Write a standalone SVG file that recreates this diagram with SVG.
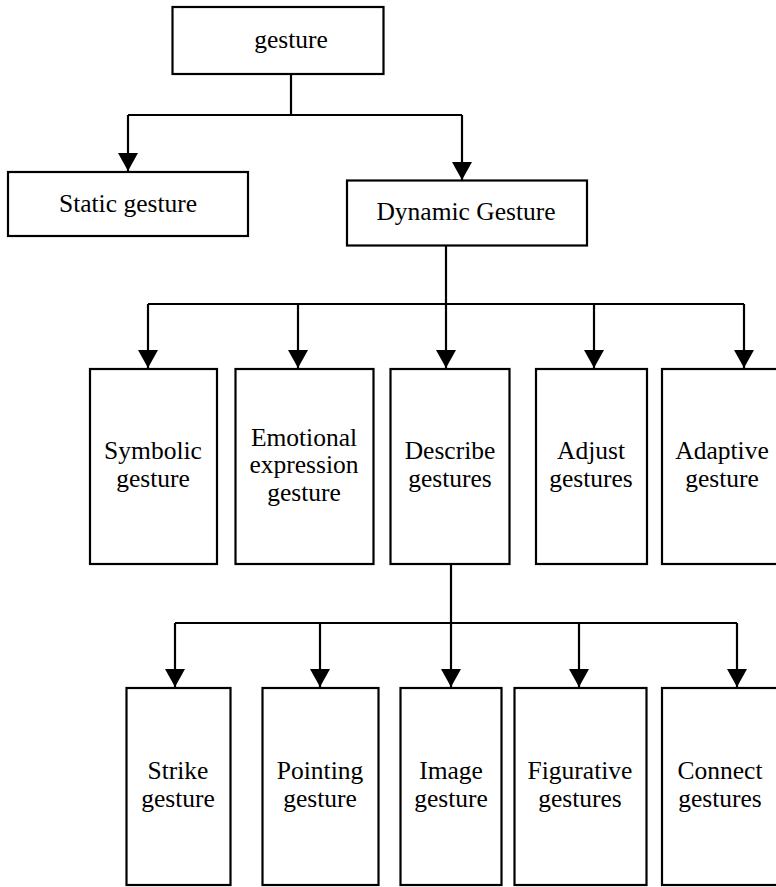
<svg xmlns="http://www.w3.org/2000/svg" width="776" height="887" viewBox="0 0 776 887">
<style>
.box{fill:#fff;stroke:#000;stroke-width:2.2}
.t{font-family:"Liberation Serif","Times New Roman",serif;font-size:25.5px;fill:#000;text-anchor:middle}
.c{fill:none;stroke:#000;stroke-width:2.2}
</style>
<defs>
<marker id="ah" markerUnits="userSpaceOnUse" markerWidth="22" markerHeight="20" refX="18" refY="10" orient="auto" viewBox="0 0 20 20">
<path d="M0,0 L18,10 L0,20 Z" fill="#000"/>
</marker>
</defs>
<rect width="776" height="887" fill="#fff"/>
<g id="connectors">
<path class="c" d="M291,74 V115"/>
<path class="c" d="M128,115 H462"/>
<path class="c" d="M128,115 V171" marker-end="url(#ah)"/>
<path class="c" d="M462,115 V180" marker-end="url(#ah)"/>
<path class="c" d="M446,246 V304"/>
<path class="c" d="M148,304 H744"/>
<path class="c" d="M148,304 V368" marker-end="url(#ah)"/>
<path class="c" d="M298,304 V368" marker-end="url(#ah)"/>
<path class="c" d="M446,304 V368" marker-end="url(#ah)"/>
<path class="c" d="M594,304 V368" marker-end="url(#ah)"/>
<path class="c" d="M744,304 V368" marker-end="url(#ah)"/>
<path class="c" d="M451,564 V623"/>
<path class="c" d="M175,623 H737"/>
<path class="c" d="M175,623 V687" marker-end="url(#ah)"/>
<path class="c" d="M320,623 V687" marker-end="url(#ah)"/>
<path class="c" d="M451,623 V687" marker-end="url(#ah)"/>
<path class="c" d="M579,623 V687" marker-end="url(#ah)"/>
<path class="c" d="M737,623 V687" marker-end="url(#ah)"/>
</g>
<g id="gesture"><rect class="box" x="172.5" y="7" width="211" height="67"/><text class="t" x="291" y="48">gesture</text></g>
<g id="static"><rect class="box" x="8" y="172" width="240" height="64"/><text class="t" x="128" y="212">Static gesture</text></g>
<g id="dynamic"><rect class="box" x="347" y="180.5" width="240" height="65"/><text class="t" x="466" y="220">Dynamic Gesture</text></g>
<g id="symbolic"><rect class="box" x="90" y="369" width="127" height="195"/><text class="t" x="153" y="459">Symbolic</text><text class="t" x="153" y="487">gesture</text></g>
<g id="emotional"><rect class="box" x="235.5" y="369" width="138" height="195"/><text class="t" x="304" y="446">Emotional</text><text class="t" x="304" y="473">expression</text><text class="t" x="304" y="501">gesture</text></g>
<g id="describe"><rect class="box" x="390.5" y="369" width="119" height="195"/><text class="t" x="450" y="459">Describe</text><text class="t" x="450" y="487">gestures</text></g>
<g id="adjust"><rect class="box" x="536" y="369" width="111" height="195"/><text class="t" x="591" y="459">Adjust</text><text class="t" x="591" y="487">gestures</text></g>
<g id="adaptive"><rect class="box" x="662" y="369" width="130" height="195"/><text class="t" x="722" y="459">Adaptive</text><text class="t" x="722" y="487">gesture</text></g>
<g id="strike"><rect class="box" x="126.5" y="688" width="104" height="197"/><text class="t" x="178" y="779">Strike</text><text class="t" x="178" y="807">gesture</text></g>
<g id="pointing"><rect class="box" x="262.5" y="688" width="116" height="197"/><text class="t" x="320" y="779">Pointing</text><text class="t" x="320" y="807">gesture</text></g>
<g id="image"><rect class="box" x="400.5" y="688" width="101" height="197"/><text class="t" x="451" y="779">Image</text><text class="t" x="451" y="807">gesture</text></g>
<g id="figurative"><rect class="box" x="514.5" y="688" width="132" height="197"/><text class="t" x="580" y="779">Figurative</text><text class="t" x="580" y="807">gestures</text></g>
<g id="connect"><rect class="box" x="662" y="688" width="130" height="197"/><text class="t" x="720" y="779">Connect</text><text class="t" x="720" y="807">gestures</text></g>
</svg>
